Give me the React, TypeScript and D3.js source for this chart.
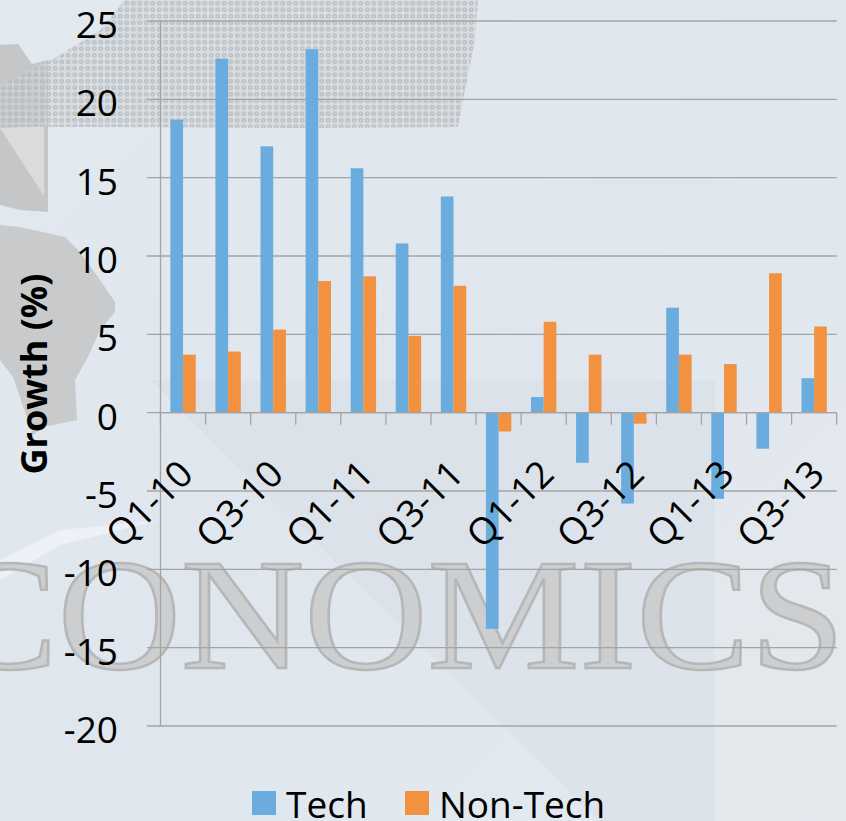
import React from 'react';
import * as d3 from 'd3';

const categories = ['Q1-10','Q2-10','Q3-10','Q4-10','Q1-11','Q2-11','Q3-11','Q4-11','Q1-12','Q2-12','Q3-12','Q4-12','Q1-13','Q2-13','Q3-13'];
const techValues = [18.7, 22.6, 17.0, 23.2, 15.6, 10.8, 13.8, -13.8, 1.0, -3.2, -5.8, 6.7, -5.5, -2.3, 2.2];
const nonTechValues = [3.7, 3.9, 5.3, 8.4, 8.7, 4.9, 8.1, -1.2, 5.8, 3.7, -0.7, 3.7, 3.1, 8.9, 5.5];
const seriesNames = ['Tech', 'Non-Tech'];
const seriesColors = ['#6aacdd', '#f2913f'];
const yTicks = [-20, -15, -10, -5, 0, 5, 10, 15, 20, 25];
const yTitle = 'Growth (%)';
const watermark = 'CONOMICS';

const W = 846;
const H = 821;
const FONT = '"Open Sans", Lato, sans-serif';

export default function App() {
  const x0 = 160.5, x1r = 836.7, yTop = 21, yBot = 726;
  const pad = 0.437;
  const x = d3.scaleBand<string>().domain(categories).range([x0, x1r]).paddingInner(pad).paddingOuter(pad / 2);
  const xs = d3.scaleBand<string>().domain(seriesNames).range([0, x.bandwidth()]);
  const y = d3.scaleLinear().domain([-20, 25]).range([yBot, yTop]);
  const series = [techValues, nonTechValues];
  const boundaries = d3.range(categories.length + 1).map(i => x0 + i * x.step());

  const lineGen = d3.line();
  const shape1 = lineGen([[0,45],[18,44],[32,64],[48,60],[48,212],[20,210],[0,205]]) + 'Z';
  const shape1b = lineGen([[0,128],[44,126],[44,196]]) + 'Z';
  const shape2 = lineGen([[0,225],[20,227],[65,237],[80,252],[100,280],[115,302],[115,312],[100,330],[88,357],[75,380],[77,420],[43,427],[33,435],[13,377],[0,360]]) + 'Z';
  const circuit = lineGen([[0,85],[30,70],[60,55],[100,30],[125,0],[478,0],[475,40],[465,90],[458,127],[300,128],[120,127],[0,127]]) + 'Z';

  return (
    <svg width={W} height={H} style={{ position: 'absolute', left: 0, top: 0 }} fontFamily={FONT}>
      <defs>
        <linearGradient id="bg" x1="0" y1="0" x2="1" y2="1">
          <stop offset="0" stopColor="#e2e9ef" />
          <stop offset="0.5" stopColor="#dfe6ed" />
          <stop offset="1" stopColor="#e3eaf0" />
        </linearGradient>
        <pattern id="dots" width="6.5" height="6.5" patternUnits="userSpaceOnUse">
          <circle cx="3.25" cy="3.25" r="1.7" fill="none" stroke="#a9adb0" strokeWidth="1" />
        </pattern>
      </defs>
      <rect x={0} y={0} width={W} height={H} fill="url(#bg)" />
      <path d={lineGen([[150,380],[846,380],[846,821],[600,821]]) + 'Z'} fill="#d3dbe2" opacity={0.35} />
      <path d={lineGen([[715,380],[846,380],[846,821],[715,821]]) + 'Z'} fill="#ffffff" opacity={0.18} />
      <path d={lineGen([[0,560],[60,530],[160,520],[60,545],[0,580]]) + 'Z'} fill="#ffffff" opacity={0.45} />

      <path d={shape1} fill="#c4c6c8" />
      <path d={shape1b} fill="#d9dbdc" />
      <path d={shape2} fill="#c8cacb" />
      <path d={circuit} fill="#d2d5d8" opacity={0.6} />
      <path d={circuit} fill="url(#dots)" />

      <text x={-56} y={668} fontFamily='"Liberation Serif", serif' fontSize={158}
        textLength={901} lengthAdjust="spacingAndGlyphs"
        fill="#cdcecf" stroke="#b6b7b8" strokeWidth={2.5}>{watermark}</text>

      {yTicks.map(t => (
        <line key={'g' + t} x1={147} x2={x1r} y1={y(t)} y2={y(t)} stroke="#a4a4a4" strokeWidth={1.3} />
      ))}
      <line x1={x0} x2={x0} y1={yTop} y2={yBot} stroke="#a4a4a4" strokeWidth={1.3} />

      {series.map((vals, si) => vals.map((v, i) => (
        <rect key={si + '-' + i}
          x={(x(categories[i]) as number) + (xs(seriesNames[si]) as number)}
          y={Math.min(y(v), y(0))}
          width={xs.bandwidth()}
          height={Math.abs(y(v) - y(0))}
          fill={seriesColors[si]} />
      )))}

      <line x1={x0} x2={x1r} y1={y(0)} y2={y(0)} stroke="#a4a4a4" strokeWidth={1.3} />
      {boundaries.map((b, i) => (
        <line key={'t' + i} x1={b} x2={b} y1={y(0)} y2={y(0) + 12} stroke="#a4a4a4" strokeWidth={1.3} />
      ))}

      {yTicks.map(t => (
        <text key={'yl' + t} x={118} y={y(t) + 17} textAnchor="end" fontSize={37} fill="#000">{t}</text>
      ))}

      {categories.map((c, i) => i % 2 === 0 ? (
        <text key={'xl' + c}
          transform={`translate(${(x(c) as number) + x.bandwidth() / 2 + 2},466) rotate(-45)`}
          textAnchor="end" dominantBaseline="central" fontSize={37} fill="#000">{c}</text>
      ) : null)}

      <text transform="translate(47,374) rotate(-90)" textAnchor="middle" fontSize={36} fontWeight="bold" fill="#000">{yTitle}</text>

      {seriesNames.map((s, i) => {
        const lx = [252, 405][i];
        return (
          <g key={'lg' + s}>
            <rect x={lx} y={791} width={24} height={24} fill={seriesColors[i]} />
            <text x={lx + 34} y={818} fontSize={37} fill="#000">{s}</text>
          </g>
        );
      })}
    </svg>
  );
}
